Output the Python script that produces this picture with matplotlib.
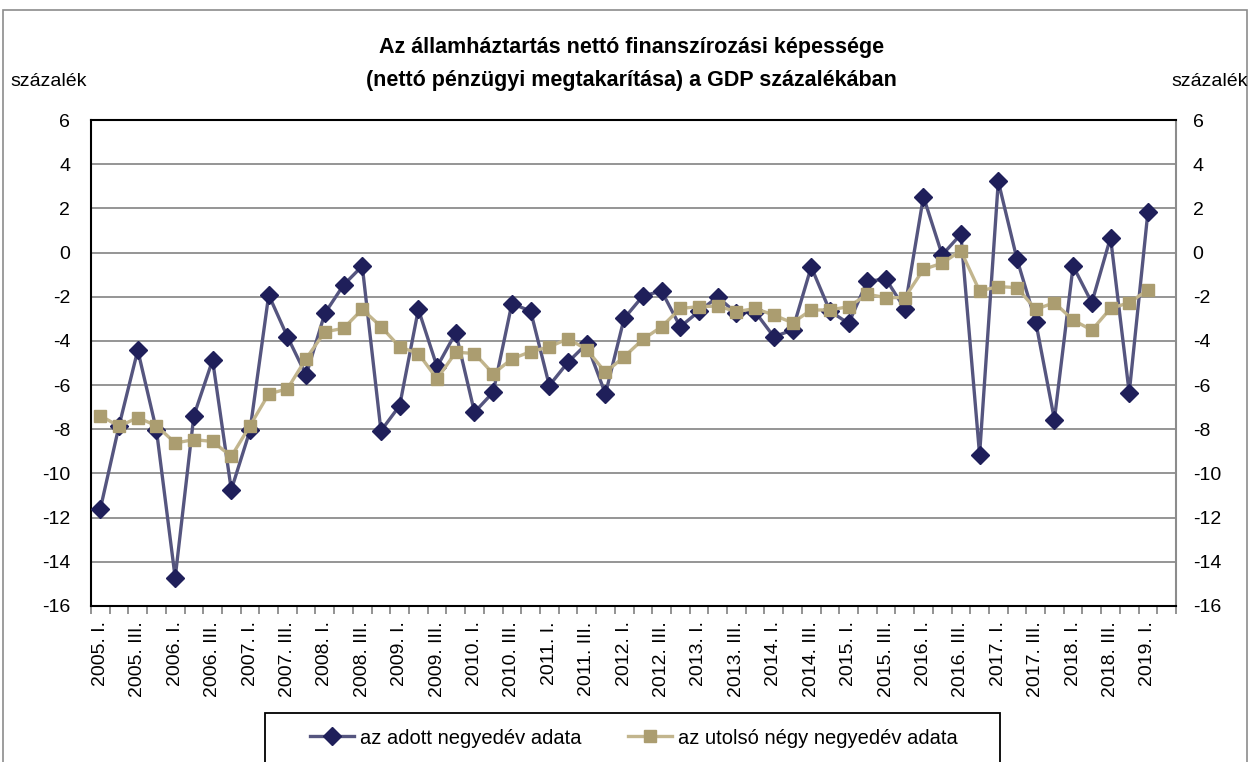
import numpy as np
import matplotlib
matplotlib.use("Agg")
import matplotlib.pyplot as plt
from matplotlib.patches import Rectangle
from matplotlib.ticker import FixedLocator

plt.rcParams["font.family"] = ["Liberation Sans Narrow", "Liberation Sans", "DejaVu Sans"]
plt.rcParams["axes.unicode_minus"] = False

# === adatok ===
years = list(range(2005, 2020))
quarter_labels = []
for y in years:
    for q in ["I.", "II.", "III.", "IV."]:
        quarter_labels.append(f"{y}. {q}")
quarter_labels = quarter_labels[:58]  # 2005 I. - 2019 II. (utolsó üres)

adott_negyedev = [
    -11.6, -7.84, -4.42, -8.05, -14.72, -7.38, -4.87, -10.74,
    -8.05, -1.92, -3.81, -5.55, -2.75, -1.47, -0.61, -8.07,
    -6.93, -2.57, -5.17, -3.63, -7.23, -6.32, -2.31, -2.65,
    -6.02, -4.96, -4.13, -6.40, -2.98, -1.97, -1.74, -3.36,
    -2.66, -2.01, -2.75, -2.68, -3.81, -3.51, -0.65, -2.65,
    -3.21, -1.29, -1.21, -2.54, 2.53, -0.11, 0.83, -9.15,
    3.22, -0.30, -3.13, -7.56, -0.61, -2.27, 0.68, -6.35,
    1.85,
]
utolso_negy_negyedev = [
    -7.38, -7.87, -7.47, -7.84, -8.62, -8.47, -8.55, -9.23,
    -7.84, -6.40, -6.17, -4.80, -3.59, -3.43, -2.57, -3.35,
    -4.27, -4.57, -5.72, -4.51, -4.57, -5.49, -4.81, -4.49,
    -4.27, -3.90, -4.39, -5.42, -4.72, -3.93, -3.36, -2.53,
    -2.45, -2.42, -2.68, -2.53, -2.83, -3.18, -2.60, -2.60,
    -2.45, -1.89, -2.04, -2.04, -0.76, -0.48, 0.08, -1.74,
    -1.54, -1.59, -2.57, -2.27, -3.06, -3.51, -2.53, -2.27,
    -1.69,
]

fig = plt.figure(figsize=(12.5, 7.62), dpi=100)
ax = fig.add_axes([91 / 1250, 1 - 606 / 762, (1176 - 91) / 1250, (606 - 120) / 762])

x1 = np.arange(len(adott_negyedev))
x2 = np.arange(len(utolso_negy_negyedev))

ax.plot(x1, adott_negyedev, color="#55557f", lw=2.4, marker="D", markersize=9.5,
        markerfacecolor="#1f1f5a", markeredgecolor="#1f1f5a",
        label="az adott negyedév adata", zorder=3)
ax.plot(x2, utolso_negy_negyedev, color="#c2b58d", lw=2.4, marker="s", markersize=8,
        markerfacecolor="#ab9d70", markeredgecolor="#ab9d70",
        label="az utolsó négy negyedév adata", zorder=4)

ax.set_xlim(-0.5, len(quarter_labels) - 0.5)
ax.set_ylim(-16, 6)
ax.set_yticks(np.arange(-16, 7, 2))
ax.yaxis.grid(True, color="#8c8c8c", lw=1.3)
ax.set_axisbelow(True)

# x tengely: címkék minden második negyedévnél, osztásjelek a határokon
ax.set_xticks(np.arange(0, len(quarter_labels), 2))
ax.set_xticklabels(quarter_labels[::2], rotation=90, fontsize=14)
ax.xaxis.set_minor_locator(FixedLocator(np.arange(-0.5, len(quarter_labels), 1)))
ax.tick_params(axis="x", which="major", length=0, pad=11)
ax.tick_params(axis="x", which="minor", length=6, color="#808080", width=1.2)
ax.tick_params(axis="y", length=0, labelsize=14, pad=15)

# jobb oldali tengely ugyanazzal a skálával
ax2 = ax.twinx()
ax2.set_ylim(ax.get_ylim())
ax2.set_yticks(np.arange(-16, 7, 2))
ax2.tick_params(axis="y", length=0, labelsize=14, pad=12)
for side in ["left", "top", "bottom", "right"]:
    ax2.spines[side].set_visible(False)

for side in ["left", "top", "bottom"]:
    ax.spines[side].set_color("black")
    ax.spines[side].set_linewidth(1.5)
ax.spines["right"].set_color("#8c8c8c")
ax.spines["right"].set_linewidth(1.5)

fig.text(0.505, 1 - 64 / 762, "Az államháztartás nettó finanszírozási képessége\n(nettó pénzügyi megtakarítása) a GDP százalékában",
         ha="center", va="center", fontsize=15.5, fontweight="bold", linespacing=1.75)
fig.text(10 / 1250, 1 - 82 / 762, "százalék", ha="left", va="center", fontsize=14)
fig.text(1248 / 1250, 1 - 82 / 762, "százalék", ha="right", va="center", fontsize=14)

# jelmagyarázat: keret külön téglalapként
h, l = ax.get_legend_handles_labels()
leg = fig.legend(h, l, loc="center", bbox_to_anchor=(634 / 1250, 1 - 738 / 762),
                 ncol=2, fontsize=14.5, frameon=False, handlelength=2.2,
                 handletextpad=0.3, columnspacing=2.3)
fig.patches.append(Rectangle((265 / 1250, -0.01), 735 / 1250, (762 - 713) / 762 + 0.01,
                             transform=fig.transFigure, fill=False, edgecolor="black", lw=1.3))

fig.patches.append(Rectangle((3 / 1250, -0.01), 1244 / 1250, 1 - 10 / 762 + 0.01,
                             transform=fig.transFigure, fill=False, edgecolor="#8c8c8c", lw=1.2))

fig.savefig("out.png", dpi=100)
